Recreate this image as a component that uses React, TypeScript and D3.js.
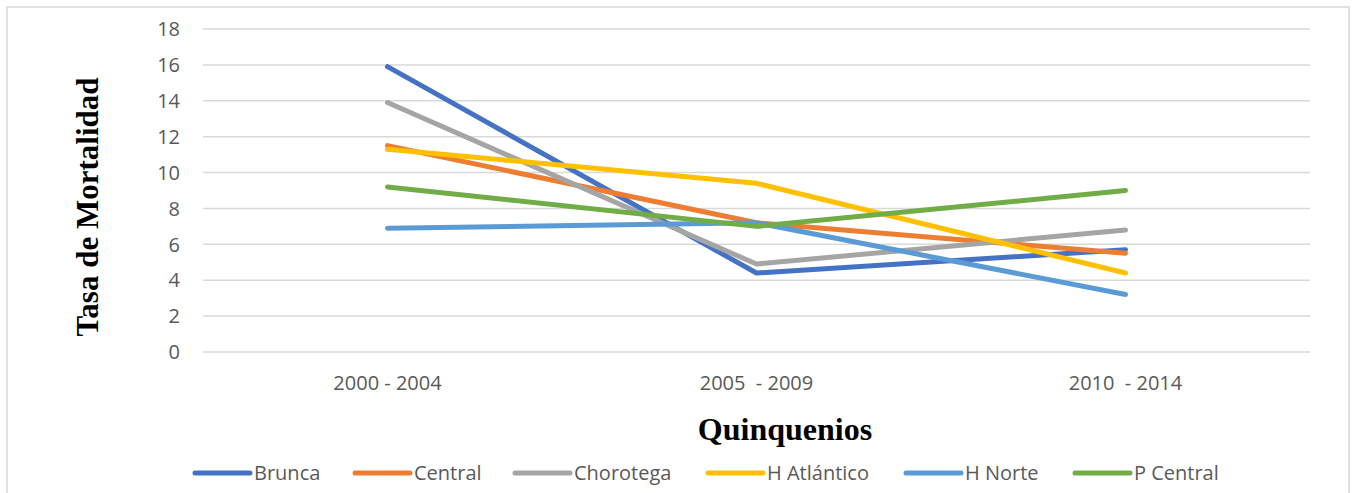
import React from "react";
import * as d3 from "d3";

const categories = ["2000 - 2004", "2005  - 2009", "2010  - 2014"];
const seriesNames = ["Brunca", "Central", "Chorotega", "H Atlántico", "H Norte", "P Central"];
const brunca = [15.9, 4.4, 5.7];
const central = [11.5, 7.2, 5.5];
const chorotega = [13.9, 4.9, 6.8];
const hAtlantico = [11.3, 9.4, 4.4];
const hNorte = [6.9, 7.2, 3.2];
const pCentral = [9.2, 7.0, 9.0];
const yTicks = [0, 2, 4, 6, 8, 10, 12, 14, 16, 18];
const colors = ["#4472C4", "#ED7D31", "#A5A5A5", "#FFC000", "#5B9BD5", "#70AD47"];
const seriesValues = [brunca, central, chorotega, hAtlantico, hNorte, pCentral];

const W = 1352;
const H = 493;
const plot = { left: 203, right: 1310, top: 29, bottom: 352 };
const legendX = [195, 355, 515, 708, 906, 1075];

export default function App() {
  const x = d3.scaleBand<string>().domain(categories).range([plot.left, plot.right]);
  const y = d3.scaleLinear().domain([0, 18]).range([plot.bottom, plot.top]);
  const line = d3
    .line<number>()
    .x((_, i) => (x(categories[i]) as number) + x.bandwidth() / 2)
    .y((d) => y(d));
  const tickFont = "'Open Sans', sans-serif";
  return (
    <svg
      width={W}
      height={H}
      style={{ position: "absolute", left: 0, top: 0, background: "#fff" }}
    >
      <rect x={7} y={7} width={1342} height={H} fill="#fff" stroke="#D9D9D9" strokeWidth={1.5} />
      {yTicks.map((t) => (
        <g key={t}>
          <line x1={plot.left} x2={plot.right} y1={y(t)} y2={y(t)} stroke="#D9D9D9" strokeWidth={1.5} />
          <text
            x={180}
            y={y(t)}
            dy="0.36em"
            textAnchor="end"
            fontFamily={tickFont}
            fontSize={20}
            fill="#595959"
          >
            {t}
          </text>
        </g>
      ))}
      {categories.map((c) => (
        <text
          key={c}
          x={(x(c) as number) + x.bandwidth() / 2}
          y={390}
          textAnchor="middle"
          fontFamily={tickFont}
          fontSize={20}
          fill="#595959"
          style={{ whiteSpace: "pre" }}
          xmlSpace="preserve"
        >
          {c}
        </text>
      ))}
      {seriesValues.map((vals, i) => (
        <path
          key={seriesNames[i]}
          d={line(vals) || ""}
          fill="none"
          stroke={colors[i]}
          strokeWidth={5}
          strokeLinecap="round"
          strokeLinejoin="round"
        />
      ))}
      <text
        transform={`translate(98, 207) rotate(-90)`}
        textAnchor="middle"
        fontFamily="'Liberation Serif', 'Times New Roman', serif"
        fontWeight="bold"
        fontSize={31}
        fill="#000"
      >
        Tasa de Mortalidad
      </text>
      <text
        x={785}
        y={440}
        textAnchor="middle"
        fontFamily="'Liberation Serif', 'Times New Roman', serif"
        fontWeight="bold"
        fontSize={32}
        fill="#000"
      >
        Quinquenios
      </text>
      {seriesNames.map((n, i) => (
        <g key={n}>
          <line
            x1={legendX[i]}
            x2={legendX[i] + 55}
            y1={473}
            y2={473}
            stroke={colors[i]}
            strokeWidth={5}
            strokeLinecap="round"
          />
          <text
            x={legendX[i] + 59}
            y={473}
            dy="0.36em"
            fontFamily={tickFont}
            fontSize={20}
            fill="#595959"
          >
            {n}
          </text>
        </g>
      ))}
    </svg>
  );
}
